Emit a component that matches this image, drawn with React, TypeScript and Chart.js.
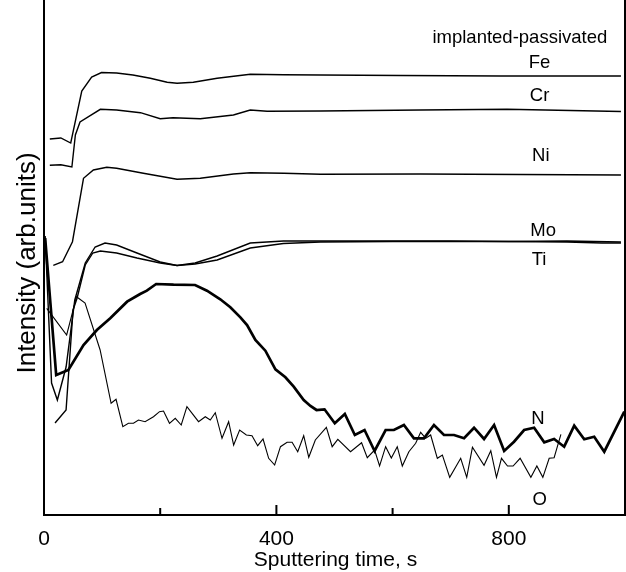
import React, { useEffect, useRef } from "react";
import { Chart, registerables } from "chart.js";

Chart.register(...registerables);

// ---- data (sputtering time in s, intensity in arbitrary units) ----
const feTime = [10, 29, 46, 65, 82, 99, 125, 153, 183, 212, 229, 257, 298, 355, 412, 476, 614, 786, 993];
const feIntensity = [376, 377, 372, 424, 438, 442.5, 442, 440, 436.7, 432.7, 431.7, 432.7, 436.7, 440.7, 440.3, 440, 439.5, 439, 439];

const crTime = [10, 29, 48, 54, 62, 97, 125, 166, 200, 222, 269, 326, 355, 384, 476, 648, 797, 993];
const crIntensity = [349.7, 350.3, 348, 380, 393, 405.7, 405, 402.3, 396.3, 397.3, 396.3, 400, 405, 403.7, 404, 405, 405.7, 403.5];

const niTime = [16, 32, 49, 68, 85, 108, 125, 171, 229, 269, 326, 355, 413, 476, 648, 993];
const niIntensity = [249.7, 253.3, 273.3, 336.7, 345, 347.7, 346.7, 341.7, 335.7, 336.7, 341, 342.3, 341.7, 340.7, 341, 340];

const tiTime = [2, 13, 23, 38, 53, 71, 88, 105, 125, 160, 200, 229, 260, 298, 355, 412, 476, 600, 700, 800, 900, 993];
const tiIntensity = [279, 132, 115, 148, 215, 252, 268, 272, 270, 262, 253, 249.5, 252, 259, 272, 274, 274, 274, 274, 273.5, 274, 273];

const moTime = [19, 38, 50, 57, 71, 84, 97, 125, 160, 200, 229, 260, 298, 355, 412, 476, 600, 800, 900, 960, 993];
const moIntensity = [92, 105, 205, 217, 250, 262, 264, 262, 257, 252, 249.5, 251, 255, 267, 271.5, 273, 273.5, 273.5, 273, 272, 272];

const nTime = [2, 21, 42, 68, 91, 114, 143, 165.5, 177, 193, 223, 260, 280.5, 303.4, 320.7, 338, 349.5, 363.8, 381, 398.3, 415.5, 429.8, 447, 458.6, 469, 482.8, 500.5, 517.8, 535, 551.7, 569, 588, 602.2, 619.5, 636.7, 654, 671.2, 688.4, 705.7, 723, 740.2, 757.4, 774.7, 792, 809, 826.4, 843.6, 861, 878, 895.3, 912.6, 929.8, 947, 964.3, 998.8];
const nIntensity = [277, 140, 145, 170, 185, 196.7, 213.3, 221, 224.3, 231, 230.3, 230, 224.3, 215.7, 207.7, 197.7, 190, 175, 164.3, 145.7, 137.7, 128.3, 115, 109, 105, 105.7, 91.7, 101, 80, 85, 64, 85, 85, 90, 76.7, 76.7, 90, 80, 80, 76.7, 87.3, 76, 90, 64, 73.3, 85, 87.3, 72.7, 76, 68.3, 89.3, 75.7, 78.3, 63.3, 103.3];

const oTime = [4.7, 39, 56, 70.7, 96.6, 115.5, 124, 135.7, 145.3, 154, 162.6, 174, 188.4, 198.8, 205.7, 216, 225.9, 236.2, 246, 266, 277.6, 286.2, 294.8, 306.4, 317.8, 326.4, 336.7, 348.3, 358, 367.8, 377, 386.7, 397, 407, 418.4, 427, 436.7, 447, 455.7, 467, 486, 496, 505.7, 527.6, 546.6, 556.4, 569, 577.6, 588, 597.8, 608, 616.7, 628, 639.7, 648.3, 657, 665.5, 677, 685.7, 698.3, 717.2, 727.6, 737.4, 757.4, 769, 778.8, 787.4, 797.8, 807.4, 819.5, 838, 848.3, 858.6, 869.5, 878, 889.7];
const oIntensity = [206.7, 180, 218.3, 212, 165, 111.7, 115.7, 88.3, 91.7, 91.7, 95, 93.3, 98.3, 103.3, 104, 91.7, 96.7, 90, 108.3, 93.3, 98.3, 95, 102.3, 76.7, 93.3, 70, 85, 80, 79.3, 69.3, 76, 56.7, 50, 68.3, 72.7, 72.7, 63.3, 79.3, 57.7, 75, 87.7, 68.3, 75.7, 63.3, 72.3, 57.3, 65, 49, 68.3, 57, 68.3, 49, 63.3, 71.7, 82.7, 76.7, 80, 56.7, 60, 37.7, 56.7, 37.7, 67.7, 49.7, 64.3, 37.7, 56.7, 49, 49, 56.7, 37.7, 49, 37.7, 56.7, 57.3, 80.7];

const xMin = 0;
const xMax = 1000;
const yMin = 0;
const yMax = 515;
const majorTicks = [400, 800];
const minorTicks = [200, 600];
const tickLabels = [0, 400, 800];

// curve labels: [text, time, intensity]
const curveLabels: [string, number, number][] = [
  ["implanted-passivated", 819, 472],
  ["Fe", 853, 447],
  ["Cr", 853, 414],
  ["Ni", 855, 354.5],
  ["Mo", 859, 279],
  ["Ti", 852, 250],
  ["N", 850, 91],
  ["O", 853, 10],
];

const toPoints = (t: number[], v: number[]) => t.map((x, i) => ({ x, y: v[i] }));

const FONT = '"Liberation Sans", Arial, Helvetica, sans-serif';

const framePlugin = {
  id: "frame",
  afterDraw(chart: any) {
    const { ctx, chartArea, scales } = chart;
    const xs = scales.x;
    const ys = scales.y;
    const { left, right, bottom } = chartArea;
    ctx.save();
    ctx.strokeStyle = "#000";
    ctx.lineWidth = 2;
    ctx.beginPath();
    ctx.moveTo(left, 0);
    ctx.lineTo(left, bottom + 1);
    ctx.moveTo(left - 1, bottom);
    ctx.lineTo(right + 1, bottom);
    ctx.moveTo(right, 0);
    ctx.lineTo(right, bottom + 1);
    ctx.stroke();
    // inward ticks
    ctx.beginPath();
    majorTicks.forEach((v) => {
      const px = xs.getPixelForValue(v);
      ctx.moveTo(px, bottom);
      ctx.lineTo(px, bottom - 10);
    });
    minorTicks.forEach((v) => {
      const px = xs.getPixelForValue(v);
      ctx.moveTo(px, bottom);
      ctx.lineTo(px, bottom - 7);
    });
    ctx.stroke();
    // tick labels
    ctx.fillStyle = "#000";
    ctx.font = `21px ${FONT}`;
    ctx.textAlign = "center";
    ctx.textBaseline = "alphabetic";
    tickLabels.forEach((v) => {
      ctx.fillText(String(v), xs.getPixelForValue(v), bottom + 30);
    });
    // axis titles
    ctx.fillText("Sputtering time, s", (left + right) / 2 + 1, bottom + 51);
    ctx.save();
    ctx.translate(35, 263);
    ctx.rotate(-Math.PI / 2);
    ctx.font = `26px ${FONT}`;
    ctx.fillText("Intensity (arb.units)", 0, 0);
    ctx.restore();
    // curve labels
    ctx.font = `18.5px ${FONT}`;
    curveLabels.forEach(([txt, t, v]) => {
      ctx.fillText(txt, xs.getPixelForValue(t), ys.getPixelForValue(v));
    });
    ctx.restore();
  },
};

export default function App() {
  const ref = useRef<HTMLCanvasElement | null>(null);
  useEffect(() => {
    if (!ref.current) return;
    const thin = { borderColor: "#000", borderWidth: 1.4, pointRadius: 0, tension: 0, fill: false };
    const chart = new Chart(ref.current, {
      type: "line",
      data: {
        datasets: [
          { label: "Fe", data: toPoints(feTime, feIntensity), ...thin },
          { label: "Cr", data: toPoints(crTime, crIntensity), ...thin },
          { label: "Ni", data: toPoints(niTime, niIntensity), ...thin },
          { label: "Mo", data: toPoints(moTime, moIntensity), ...thin },
          { label: "Ti", data: toPoints(tiTime, tiIntensity), ...thin },
          { label: "O", data: toPoints(oTime, oIntensity), ...thin, borderWidth: 1.1 },
          { label: "N", data: toPoints(nTime, nIntensity), ...thin, borderWidth: 2.7 },
        ],
      },
      options: {
        animation: false,
        responsive: false,
        maintainAspectRatio: false,
        layout: { padding: { left: 44, right: 1, top: 0, bottom: 57 } },
        plugins: { legend: { display: false }, tooltip: { enabled: false }, title: { display: false } },
        scales: {
          x: { type: "linear", display: false, min: xMin, max: xMax },
          y: { type: "linear", display: false, min: yMin, max: yMax },
        },
      },
      plugins: [framePlugin],
    } as any);
    return () => chart.destroy();
  }, []);
  return (
    <div style={{ position: "fixed", left: 0, top: 0, width: 626, height: 572, background: "#fff" }}>
      <canvas ref={ref} width={626} height={572} style={{ width: 626, height: 572, display: "block" }} />
    </div>
  );
}
